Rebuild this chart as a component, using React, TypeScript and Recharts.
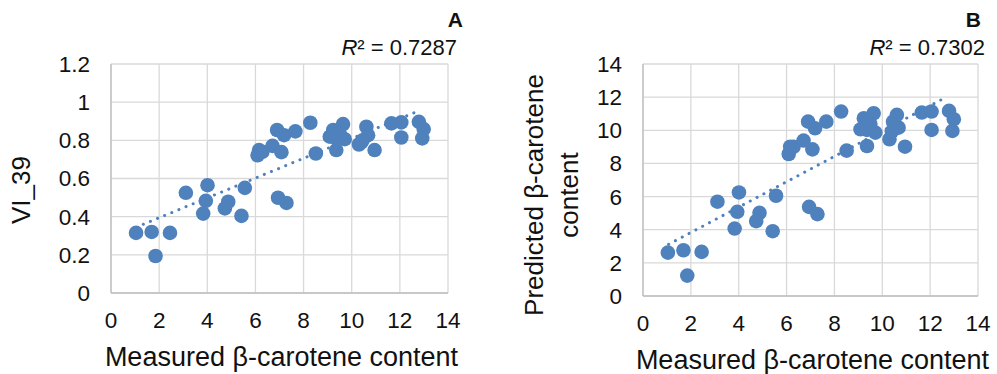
import React from "react";
import { ScatterChart, Scatter, XAxis, YAxis, CartesianGrid, Label } from "recharts";

// measured beta-carotene (shared x for both panels)
const measured = [
  1.04, 1.69, 2.45, 1.85, 3.11, 4.01, 3.94, 3.83, 4.87, 4.73, 5.42, 5.56, 6.94, 7.29,
  6.09, 6.15, 6.29, 6.71, 7.08, 6.9, 7.19, 7.66, 8.28, 8.51, 9.23, 9.64, 9.09, 9.36,
  9.71, 9.36, 10.61, 10.68, 10.3, 10.95, 11.65, 12.06, 12.06, 12.79, 12.99, 12.93,
  9.5, 10.45, 10.4,
];
const vi39 = [
  0.315, 0.32, 0.315, 0.194, 0.525, 0.565, 0.483, 0.416, 0.478, 0.443, 0.404, 0.551, 0.499, 0.472,
  0.722, 0.749, 0.74, 0.771, 0.738, 0.854, 0.827, 0.847, 0.892, 0.731, 0.854, 0.885, 0.819, 0.81,
  0.806, 0.749, 0.871, 0.827, 0.778, 0.749, 0.889, 0.894, 0.815, 0.897, 0.859, 0.81,
  0.838, 0.8, 0.79,
];
const predicted = [
  2.62, 2.76, 2.66, 1.23, 5.69, 6.25, 5.08, 4.07, 5.02, 4.52, 3.91, 6.05, 5.38, 4.94,
  8.57, 9.01, 9.0, 9.38, 8.85, 10.52, 10.12, 10.52, 11.13, 8.77, 10.73, 11.03, 10.06, 10.02,
  9.86, 9.05, 10.93, 10.16, 9.46, 9.01, 11.07, 11.13, 10.02, 11.17, 10.67, 9.96,
  10.38, 10.52, 9.92,
];

// dotted trend lines, end points
const trendAX = [1.34, 12.79];
const trendAY = [0.36, 0.955];
const trendBX = [1.07, 12.72];
const trendBY = [3.12, 12.04];

const xTicks = [0, 2, 4, 6, 8, 10, 12, 14];
const yTicksA = [0, 0.2, 0.4, 0.6, 0.8, 1, 1.2];
const yTicksB = [0, 2, 4, 6, 8, 10, 12, 14];

const BLUE = "#4f81bd";
const FONT = "'Liberation Sans', Arial, sans-serif";
const TXT = "#111";

const pointsA = measured.map((x, i) => ({ x, y: vi39[i] }));
const pointsB = measured.map((x, i) => ({ x, y: predicted[i] }));
const lineA = trendAX.map((x, i) => ({ x, y: trendAY[i] }));
const lineB = trendBX.map((x, i) => ({ x, y: trendBY[i] }));

const Dot = (p: any) => <circle cx={p.cx} cy={p.cy} r={7.3} fill={BLUE} />;
const NoDot = () => <g />;

const tickStyle = { fontSize: 22.5, fill: TXT, fontFamily: FONT };

const XTitle = ({ viewBox }: any) => (
  <text
    x={viewBox.x + viewBox.width / 2 + 2}
    y={viewBox.y + 73}
    textAnchor="middle"
    fontSize={27}
    fontFamily={FONT}
    fill={TXT}
  >
    Measured β-carotene content
  </text>
);

const YTitle = ({ lines, xs, cy }: any) => (
  <g>
    {lines.map((t: string, i: number) => (
      <text
        key={i}
        transform={`translate(${xs[i]},${cy}) rotate(-90)`}
        textAnchor="middle"
        dominantBaseline="central"
        fontSize={26}
        fontFamily={FONT}
        fill={TXT}
      >
        {t}
      </text>
    ))}
  </g>
);

const trendLine = {
  stroke: BLUE,
  strokeWidth: 3,
  strokeDasharray: "0.1 7.6",
  strokeLinecap: "round" as const,
};

function Panel({ width, right, yw, xh, points, line, yTicks, yMax, yTitle }: any) {
  return (
    <ScatterChart width={width} height={374} margin={{ top: 64, right, bottom: 0, left: 0 }}>
      <CartesianGrid stroke="#d9d9d9" strokeWidth={1.3} />
      <XAxis
        type="number"
        dataKey="x"
        domain={[0, 14]}
        ticks={xTicks}
        height={xh}
        tick={tickStyle}
        tickLine={false}
        tickSize={6}
        tickMargin={13}
        axisLine={{ stroke: "#bfbfbf", strokeWidth: 1.3 }}
        interval={0}
      >
        <Label content={<XTitle />} />
      </XAxis>
      <YAxis
        type="number"
        dataKey="y"
        domain={[0, yMax]}
        ticks={yTicks}
        width={yw}
        tick={tickStyle}
        tickLine={false}
        tickSize={6}
        tickMargin={15}
        axisLine={{ stroke: "#bfbfbf", strokeWidth: 1.3 }}
        interval={0}
      >
        <Label content={yTitle} />
      </YAxis>
      <Scatter data={line} line={trendLine} shape={NoDot} isAnimationActive={false} />
      <Scatter data={points} shape={Dot} isAnimationActive={false} />
    </ScatterChart>
  );
}

export default function App() {
  return (
    <div style={{ position: "absolute", left: 0, top: 0, width: 997, height: 374, background: "#fff" }}>
      <div style={{ position: "absolute", left: 0, top: 0 }}>
        <Panel
          width={497}
          right={49}
          yw={111}
          xh={81}
          points={pointsA}
          line={lineA}
          yTicks={yTicksA}
          yMax={1.2}
          yTitle={<YTitle lines={["VI_39"]} xs={[21]} cy={190} />}
        />
      </div>
      <div style={{ position: "absolute", left: 497, top: 0 }}>
        <Panel
          width={500}
          right={19}
          yw={146}
          xh={78}
          points={pointsB}
          line={lineB}
          yTicks={yTicksB}
          yMax={14}
          yTitle={<YTitle lines={["Predicted β-carotene", "content"]} xs={[37, 72]} cy={195} />}
        />
      </div>
      <svg width={997} height={374} style={{ position: "absolute", left: 0, top: 0, pointerEvents: "none" }}>
        <g fontFamily={FONT} fill={TXT}>
          <text x={463} y={27} textAnchor="end" fontSize={21} fontWeight="bold">A</text>
          <text x={457} y={55} textAnchor="end" fontSize={22}>
            <tspan fontStyle="italic">R</tspan>² = 0.7287
          </text>
          <text x={981} y={27} textAnchor="end" fontSize={21} fontWeight="bold">B</text>
          <text x={985} y={55} textAnchor="end" fontSize={22}>
            <tspan fontStyle="italic">R</tspan>² = 0.7302
          </text>
        </g>
      </svg>
    </div>
  );
}
